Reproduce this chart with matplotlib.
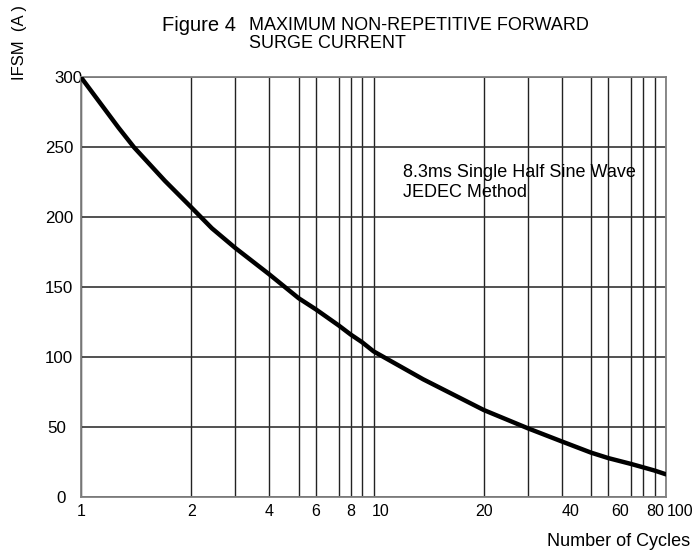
import numpy as np
import matplotlib
matplotlib.use('Agg')
import matplotlib.pyplot as plt
from matplotlib.transforms import ScaledTranslation

plt.rcParams['font.family'] = ['Liberation Sans', 'DejaVu Sans']

# Данные кривой
cycles = [1, 1.34, 1.48, 1.76, 2, 2.47, 3, 4, 5, 6, 7, 8, 9, 10,
          14.5, 20, 30, 40, 50, 60, 70, 80, 90, 100]
ifsm = [300, 264, 250, 226, 207, 192, 178, 159, 142, 134, 122.5, 116,
        110.5, 104, 84, 62, 49, 39.5, 31.5, 27.6, 23.4, 21, 18.7, 16]

x_major = [1, 2, 4, 6, 8, 10, 20, 40, 60, 80, 100]
x_minor = [3, 5, 7, 9, 30, 50, 70, 90]
y_ticks = [0, 50, 100, 150, 200, 250, 300]

# "логарифмическая" сетка из даташита нарисована не совсем точно,
# поэтому шкалу задаём по положению линий внутри декады
decade_frac = [0, 0.377, 0.527, 0.644, 0.744, 0.803, 0.881, 0.922, 0.961, 1.0]
scale_x = [1, 2, 3, 4, 5, 6, 7, 8, 9, 10, 20, 30, 40, 50, 60, 70, 80, 90, 100]
scale_p = decade_frac + [1 + f for f in decade_frac[1:]]


def fwd(x):
    return np.interp(x, scale_x, scale_p)


def inv(p):
    return np.interp(p, scale_p, scale_x)


W, H = 696, 556
fig = plt.figure(figsize=(W / 100, H / 100), dpi=100)
ax = fig.add_axes([81 / W, 1 - 496.7 / H, (666 - 81) / W, (496.7 - 77.3) / H])

ax.set_xscale('function', functions=(fwd, inv))
ax.set_xlim(1, 100)
ax.set_ylim(0, 300)

ax.plot(cycles, ifsm, color='black', lw=3.2, solid_capstyle='round',
        solid_joinstyle='round', zorder=3)

ax.set_xticks(x_major)
ax.set_xticks(x_minor, minor=True)
ax.set_xticklabels([str(v) for v in x_major])
ax.set_yticks(y_ticks)
ax.set_yticklabels([str(v) for v in y_ticks])

ax.tick_params(axis='both', which='both', length=0)
ax.tick_params(axis='x', pad=5, labelsize=11.5)
ax.tick_params(axis='y', pad=5.5, labelsize=12.2)

ax.grid(True, axis='x', which='both', color='#222222', lw=1.0)
ax.grid(True, axis='y', which='major', color='#333333', lw=1.2)

for s in ax.spines.values():
    s.set_color('#808080')
    s.set_linewidth(1.3)

# подписи расставлены в оригинале вручную - сдвигаем некоторые
x_shift = {10: 7, 40: 9, 60: 12, 80: 12, 100: 14}
for val, lab in zip(x_major, ax.get_xticklabels()):
    dx = x_shift.get(val, 0)
    if dx:
        lab.set_transform(lab.get_transform() + ScaledTranslation(dx / 100, 0, fig.dpi_scale_trans))
y_shift = {300: 9, 50: -7, 0: -8}
for val, lab in zip(y_ticks, ax.get_yticklabels()):
    dx = y_shift.get(val, 0)
    if dx:
        lab.set_transform(lab.get_transform() + ScaledTranslation(dx / 100, 0, fig.dpi_scale_trans))

# Заголовок
fig.text(161.7 / W, 1 - 31 / H, 'Figure 4', fontsize=14.5, va='baseline', ha='left')
fig.text(249.3 / W, 1 - 29.8 / H, 'MAXIMUM NON-REPETITIVE FORWARD', fontsize=13, va='baseline', ha='left')
fig.text(249.3 / W, 1 - 47.5 / H, 'SURGE CURRENT', fontsize=13, va='baseline', ha='left')

# Подписи
fig.text(402.7 / W, 1 - 177.3 / H, '8.3ms Single Half Sine Wave', fontsize=13, va='baseline', ha='left')
fig.text(402.7 / W, 1 - 197 / H, 'JEDEC Method', fontsize=13, va='baseline', ha='left')
fig.text(690 / W, 1 - 546 / H, 'Number of Cycles', fontsize=13, va='baseline', ha='right')
fig.text(20 / W, 1 - 43 / H, 'IFSM  (A )', fontsize=12, rotation=90, va='center', ha='center')

plt.savefig('out.png', dpi=100)
plt.close(fig)
